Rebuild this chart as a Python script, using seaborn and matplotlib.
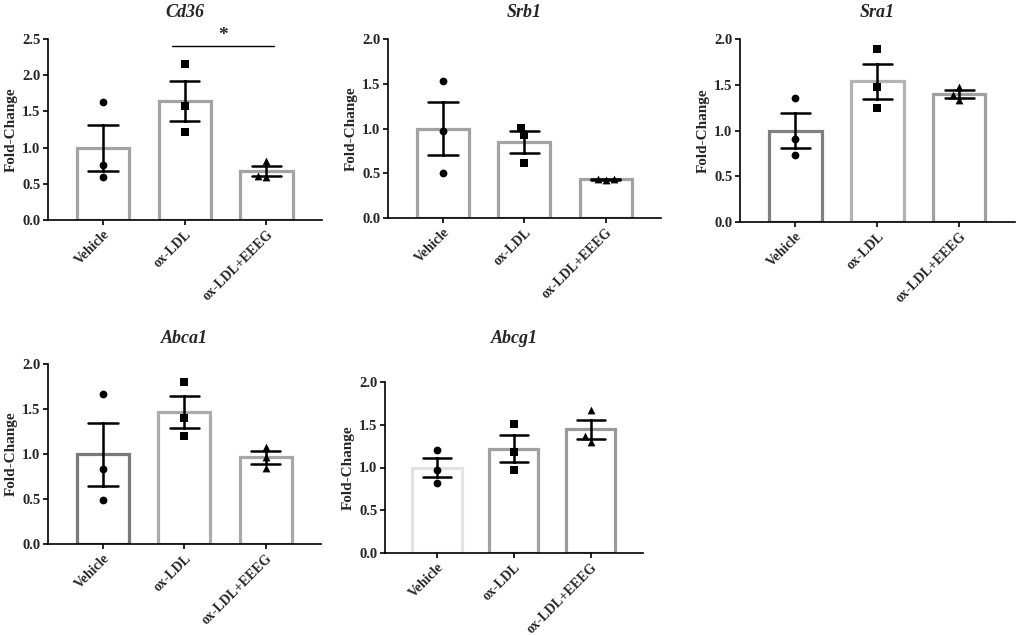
import numpy as np
import pandas as pd
import matplotlib
matplotlib.use("Agg")
import matplotlib.pyplot as plt
import seaborn as sns

# ---------------- data ----------------
groups = ["Vehicle", "ox-LDL", "ox-LDL+EEEG"]
genes = ["Cd36", "Srb1", "Sra1", "Abca1", "Abcg1"]

cd36_vehicle = [1.63, 0.76, 0.59]
cd36_oxldl = [2.16, 1.57, 1.21]
cd36_eeeg = [0.82, 0.61, 0.60]

srb1_vehicle = [1.53, 0.97, 0.50]
srb1_oxldl = [1.01, 0.93, 0.61]
srb1_eeeg = [0.42, 0.44, 0.44]

sra1_vehicle = [1.36, 0.91, 0.73]
sra1_oxldl = [1.89, 1.47, 1.25]
sra1_eeeg = [1.48, 1.33, 1.39]

abca1_vehicle = [1.67, 0.83, 0.49]
abca1_oxldl = [1.80, 1.40, 1.20]
abca1_eeeg = [1.08, 0.97, 0.84]

abcg1_vehicle = [1.21, 0.97, 0.82]
abcg1_oxldl = [1.51, 1.18, 0.97]
abcg1_eeeg = [1.67, 1.37, 1.30]

y_max = [2.5, 2.0, 2.0, 2.0, 2.0]

raw = {
    "Cd36": [cd36_vehicle, cd36_oxldl, cd36_eeeg],
    "Srb1": [srb1_vehicle, srb1_oxldl, srb1_eeeg],
    "Sra1": [sra1_vehicle, sra1_oxldl, sra1_eeeg],
    "Abca1": [abca1_vehicle, abca1_oxldl, abca1_eeeg],
    "Abcg1": [abcg1_vehicle, abcg1_oxldl, abcg1_eeeg],
}

# ---------------- style ----------------
sns.set_theme(style="ticks")
plt.rcParams["font.family"] = ["Liberation Serif", "DejaVu Serif"]
plt.rcParams["font.weight"] = "bold"
plt.rcParams["axes.linewidth"] = 1.2

edge_colors = {
    "Cd36": ["#a3a3a3", "#a3a3a3", "#a3a3a3"],
    "Srb1": ["#a3a3a3", "#a3a3a3", "#a3a3a3"],
    "Sra1": ["#808080", "#b3b3b3", "#a0a0a0"],
    "Abca1": ["#7a7a7a", "#ababab", "#a8a8a8"],
    "Abcg1": ["#e3e3e3", "#a0a0a0", "#9a9a9a"],
}
markers = ["o", "s", "^"]

W, H = 1021, 635
# axes boxes in pixel coords: left, top, right, bottom
boxes = {
    "Cd36": (48, 39, 322, 220),
    "Srb1": (388, 39, 661, 218),
    "Sra1": (740, 39, 1015, 222),
    "Abca1": (48, 364, 321, 544),
    "Abcg1": (385, 382, 643, 553),
}
title_y = {"Cd36": 17, "Srb1": 17, "Sra1": 17, "Abca1": 343, "Abcg1": 343}

fig = plt.figure(figsize=(W / 100, H / 100), dpi=100)

for gi, gene in enumerate(genes):
    l, t, r, b = boxes[gene]
    ax = fig.add_axes([l / W, 1 - b / H, (r - l) / W, (b - t) / H])
    rows = []
    for grp, vals in zip(groups, raw[gene]):
        for v in vals:
            rows.append({"group": grp, "value": v})
    df = pd.DataFrame(rows)

    sns.barplot(
        data=df, x="group", y="value", hue="group", order=groups,
        hue_order=groups, palette=edge_colors[gene], fill=False,
        linewidth=2.3, width=0.64, errorbar="se", capsize=0.36,
        err_kws={"color": "black", "linewidth": 1.8}, legend=False, ax=ax,
    )
    for grp, mk in zip(groups, markers):
        sub = df[df["group"] == grp]
        sns.swarmplot(
            data=sub, x="group", y="value", order=groups, color="black",
            marker=mk, size=5.6, ax=ax, zorder=1.5,
        )

    ax.set_xlim(-0.675, 2.68)
    ax.set_ylim(0, y_max[gi])
    ticks = np.arange(0, y_max[gi] + 0.01, 0.5)
    ax.set_yticks(ticks)
    ax.set_yticklabels([f"{v:.1f}" for v in ticks], fontsize=10.5,
                       fontweight="bold")
    ax.set_xticks(range(len(groups)))
    ax.set_xticklabels(groups, rotation=45, ha="right", rotation_mode="anchor",
                       fontsize=10, fontweight="bold")
    ax.set_xlabel("")
    ax.set_ylabel("Fold-Change", fontsize=11, fontweight="bold", labelpad=3)
    ax.tick_params(axis="both", length=3.5, width=1.2, color="black", pad=2)
    for s in ["top", "right"]:
        ax.spines[s].set_visible(False)
    for s in ["left", "bottom"]:
        ax.spines[s].set_color("black")
    fig.text((l + r) / 2 / W, 1 - title_y[gene] / H, gene, ha="center",
             va="baseline", fontsize=13, fontweight="bold", style="italic")

    if gene == "Cd36":
        ax.plot([0.84, 2.09], [2.40, 2.40], color="black", linewidth=1.0)
        ax.text(1.47, 2.43, "*", ha="center", va="bottom", fontsize=14,
                fontweight="bold")

fig.savefig("out.png", dpi=100)
